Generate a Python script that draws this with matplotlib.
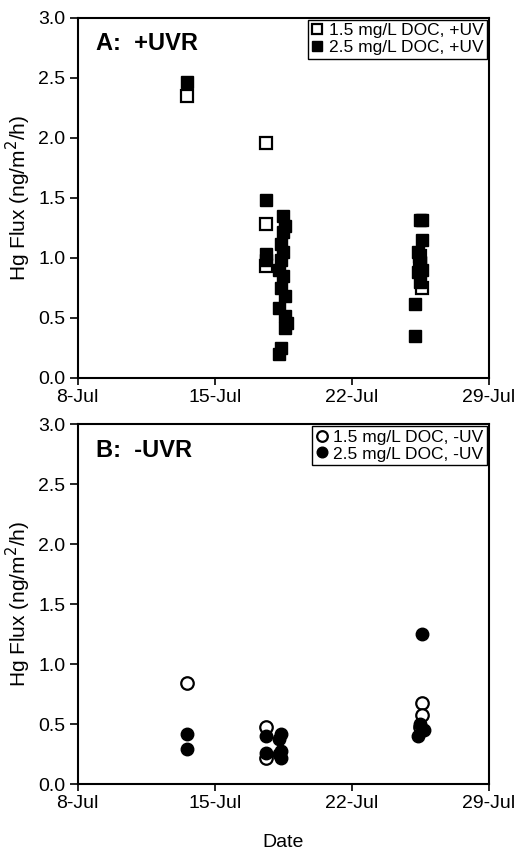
import numpy as np
import matplotlib
matplotlib.use("Agg")
import matplotlib.pyplot as plt

plt.rcParams['font.family'] = ['Liberation Sans', 'DejaVu Sans']

# -------------------------
# DATA (day of July, Hg flux ng/m2/h)
# -------------------------
a_low_days = [13.6, 17.6, 17.6, 17.6, 25.5, 25.5, 25.6]
a_low_vals = [2.35, 1.96, 1.28, 0.93, 1.02, 0.95, 0.75]

a_high_days = [13.6, 17.6, 17.6, 17.6,
               18.5, 18.6, 18.5, 18.4, 18.5, 18.4, 18.3, 18.5, 18.4, 18.6,
               18.3, 18.6, 18.7, 18.6, 18.4, 18.3,
               25.5, 25.6, 25.6, 25.4, 25.5, 25.6, 25.4, 25.5, 25.2, 25.2]
a_high_vals = [2.47, 1.48, 1.03, 0.98,
               1.35, 1.27, 1.22, 1.12, 1.05, 0.98, 0.90, 0.85, 0.75, 0.68,
               0.58, 0.52, 0.46, 0.42, 0.25, 0.20,
               1.32, 1.32, 1.15, 1.05, 0.97, 0.90, 0.88, 0.80, 0.62, 0.35]

b_low_days = [13.6, 17.6, 17.6, 25.6, 25.6, 25.5]
b_low_vals = [0.84, 0.48, 0.22, 0.68, 0.58, 0.48]

b_high_days = [13.6, 13.6, 17.6, 17.6, 18.4, 18.3, 18.4, 18.3, 18.4,
               25.6, 25.5, 25.7, 25.4]
b_high_vals = [0.42, 0.29, 0.40, 0.26, 0.42, 0.38, 0.28, 0.25, 0.22,
               1.25, 0.50, 0.45, 0.40]

tick_days = [8, 15, 22, 29]
tick_labels = ['8-Jul', '15-Jul', '22-Jul', '29-Jul']
y_ticks = [0.0, 0.5, 1.0, 1.5, 2.0, 2.5, 3.0]

# -------------------------
# FIGURE
# -------------------------
fig = plt.figure(figsize=(5.18, 8.57), dpi=100)
ax_a = fig.add_axes([0.150, 0.559, 0.794, 0.420])
ax_b = fig.add_axes([0.150, 0.085, 0.794, 0.420])

ms = 8.5


def style_axis(ax, title):
    ax.set_xlim(8, 29)
    ax.set_ylim(0, 3.0)
    ax.set_xticks(tick_days)
    ax.set_xticklabels(tick_labels)
    ax.set_yticks(y_ticks)
    ax.set_yticklabels([f"{v:.1f}" for v in y_ticks])
    ax.tick_params(axis='x', direction='out', length=5, width=1.2,
                   labelsize=14, pad=3)
    ax.tick_params(axis='y', direction='out', length=6, width=1.2,
                   labelsize=14, pad=3)
    for s in ax.spines.values():
        s.set_linewidth(1.5)
    ax.set_ylabel('Hg Flux (ng/m$^2$/h)', fontsize=15, labelpad=4)
    ax.text(0.045, 0.928, title, transform=ax.transAxes, fontsize=17,
            fontweight='bold', va='center', ha='left')


ax_a.plot(a_low_days, a_low_vals, 's', ms=ms, mfc='white', mec='black',
          mew=1.6, ls='none', label='1.5 mg/L DOC, +UV')
ax_a.plot(a_high_days, a_high_vals, 's', ms=ms, mfc='black', mec='black',
          ls='none', label='2.5 mg/L DOC, +UV')
style_axis(ax_a, 'A:  +UVR')

ax_b.plot(b_low_days, b_low_vals, 'o', ms=ms + 0.5, mfc='white', mec='black',
          mew=1.6, ls='none', label='1.5 mg/L DOC, -UV')
ax_b.plot(b_high_days, b_high_vals, 'o', ms=ms + 0.5, mfc='black', mec='black',
          ls='none', label='2.5 mg/L DOC, -UV')
style_axis(ax_b, 'B:  -UVR')
ax_b.set_xlabel('Date', fontsize=14, labelpad=16)

for ax in (ax_a, ax_b):
    leg = ax.legend(loc='upper right', bbox_to_anchor=(0.995, 0.995),
                    fontsize=12.5, frameon=True, fancybox=False,
                    edgecolor='black', framealpha=1, borderpad=0.2,
                    labelspacing=0.1, handlelength=0.7, handletextpad=0.3,
                    borderaxespad=0.0, markerscale=0.85)
    leg.get_frame().set_linewidth(1.0)

fig.savefig('out.png', dpi=100)
